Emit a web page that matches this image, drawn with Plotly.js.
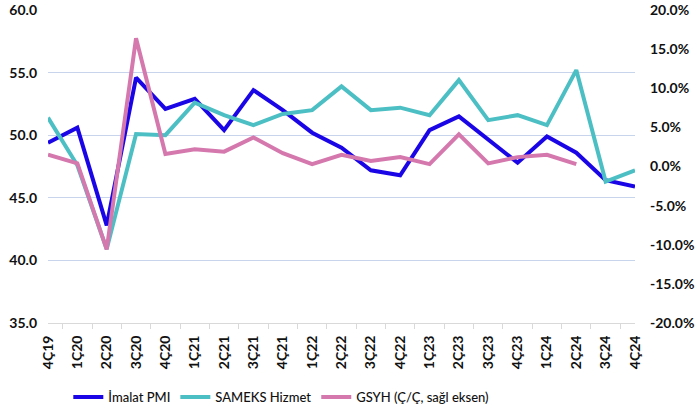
<!DOCTYPE html>
<html>
<head>
<meta charset="utf-8">
<script src="https://cdn.plot.ly/plotly-3.0.1.min.js"></script>
<style>html,body{margin:0;padding:0;background:#fff;}#chart{width:697px;height:415px;}</style>
</head>
<body>
<div id="chart"></div>
<script>
const categories = ["4Ç19","1Ç20","2Ç20","3Ç20","4Ç20","1Ç21","2Ç21","3Ç21","4Ç21","1Ç22","2Ç22","3Ç22","4Ç22","1Ç23","2Ç23","3Ç23","4Ç23","1Ç24","2Ç24","3Ç24","4Ç24"];
const imalatPMI = [49.4,50.6,42.8,54.6,52.1,52.9,50.4,53.6,52.0,50.2,49.0,47.2,46.8,50.4,51.5,49.6,47.8,49.9,48.6,46.4,45.9];
const sameksHizmet = [51.4,47.6,40.9,50.1,50.0,52.6,51.6,50.8,51.7,52.0,53.9,52.0,52.2,51.6,54.4,51.2,51.6,50.8,55.2,46.3,47.2];
const gsyh = [1.5,0.4,-10.6,16.4,1.6,2.2,1.9,3.7,1.7,0.3,1.5,0.7,1.2,0.3,4.1,0.4,1.2,1.5,0.3,null,null];
const seriesNames = ["İmalat PMI","SAMEKS Hizmet","GSYH (Ç/Ç, sağl eksen)"];
const leftTicks = [35,40,45,50,55,60];
const leftTickText = ["35.0","40.0","45.0","50.0","55.0","60.0"];
const rightTicks = [-20,-15,-10,-5,0,5,10,15,20];
const rightTickText = ["-20.0%","-15.0%","-10.0%","-5.0%","0.0%","5.0%","10.0%","15.0%","20.0%"];

const FONT = "Lato, 'Noto Sans', sans-serif";
const traces = [
  {x: categories, y: imalatPMI, name: seriesNames[0], type: "scatter", mode: "lines",
   line: {color: "#1a05e6", width: 4}},
  {x: categories, y: sameksHizmet, name: seriesNames[1], type: "scatter", mode: "lines",
   line: {color: "#4cbfc4", width: 4}},
  {x: categories, y: gsyh, name: seriesNames[2], type: "scatter", mode: "lines", yaxis: "y2",
   line: {color: "#d478ae", width: 4}, connectgaps: false}
];

const layout = {
  width: 697, height: 415,
  margin: {l: 48, r: 62, t: 10, b: 92},
  paper_bgcolor: "#ffffff", plot_bgcolor: "#ffffff",
  font: {family: FONT, size: 13, color: "#111111", weight: 600},
  showlegend: true,
  legend: {orientation: "h", x: 0.098, xanchor: "left", xref: "container",
           y: 0.043, yanchor: "middle", yref: "container",
           font: {family: FONT, size: 13, color: "#111111", weight: 500}, itemwidth: 30, tracegroupgap: 0},
  xaxis: {type: "category", tickangle: -90, tickson: "boundaries", ticks: "outside",
          ticklen: 5, tickcolor: "#d9d9d9", showline: true, linecolor: "#d9d9d9",
          showgrid: false, zeroline: false, automargin: false, ticklabelstandoff: 6,
          tickfont: {family: FONT, size: 14, color: "#111111", weight: 700}},
  yaxis: {range: [35, 60], tickvals: leftTicks, ticktext: leftTickText, showgrid: true,
          gridcolor: "#c8d3ec", gridwidth: 1, zeroline: false, showline: false,
          ticks: "", ticklabelstandoff: 10, automargin: false,
          tickfont: {family: FONT, size: 14, color: "#111111", weight: 700}},
  yaxis2: {overlaying: "y", side: "right", range: [-20, 20], tickvals: rightTicks,
           ticktext: rightTickText, showgrid: false, zeroline: false,
           showline: false, ticks: "", ticklabelstandoff: 14, automargin: false,
           tickfont: {family: FONT, size: 14, color: "#111111", weight: 700}}
};

Plotly.newPlot("chart", traces, layout, {displayModeBar: false, staticPlot: true});
</script>
</body>
</html>
